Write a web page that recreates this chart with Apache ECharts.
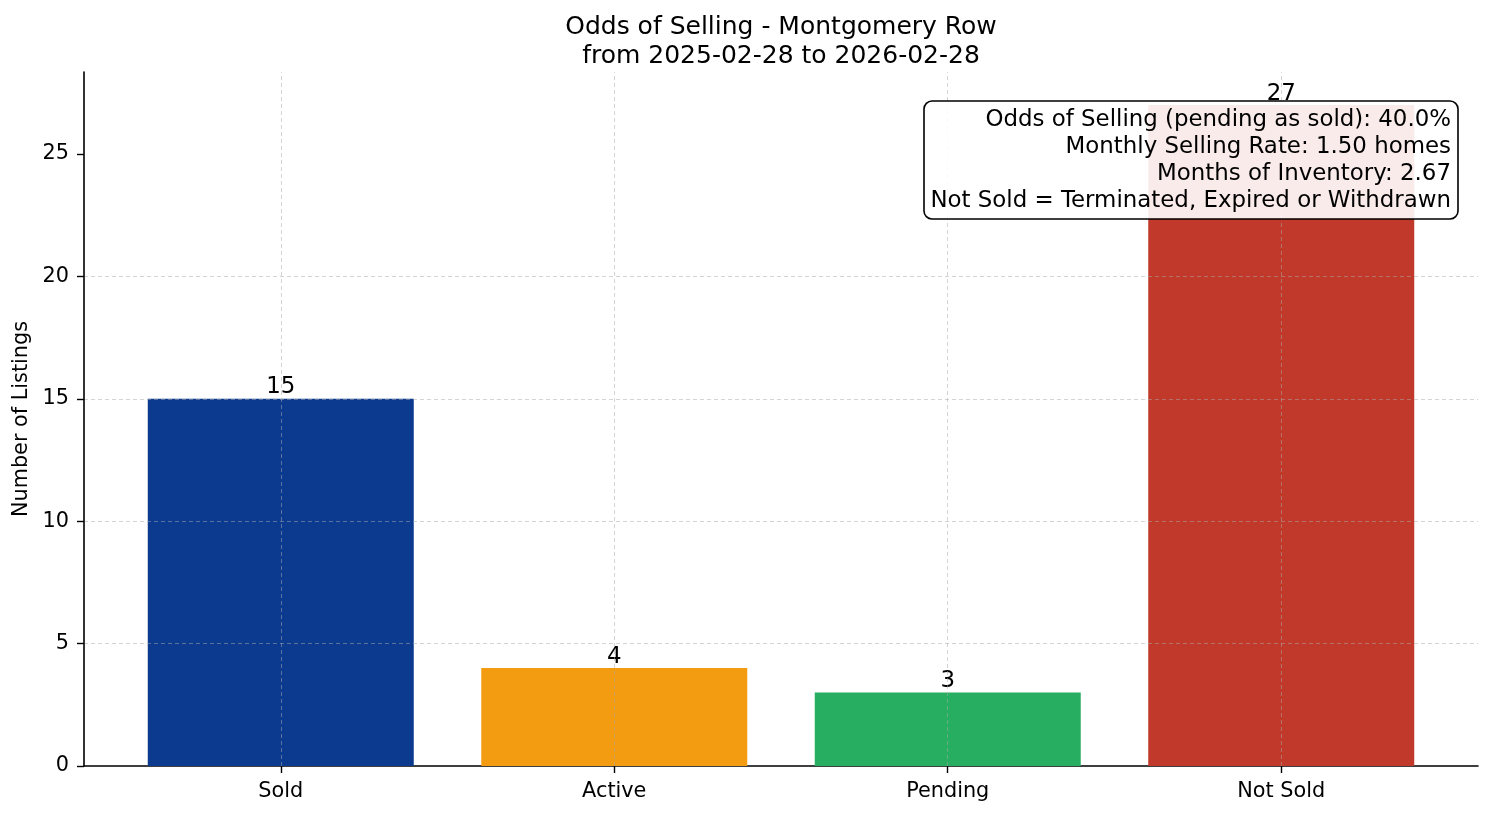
<!DOCTYPE html>
<html>
<head>
<meta charset="utf-8">
<script src="https://cdn.jsdelivr.net/npm/echarts@6/dist/echarts.min.js"></script>
<style>
  html, body { margin: 0; padding: 0; background: #fff; }
  #main { width: 1494px; height: 816px; }
</style>
</head>
<body>
<div id="main"></div>
<script>
var categories = ["Sold", "Active", "Pending", "Not Sold"];
var counts = [15, 4, 3, 27];
var barColors = ["#0b3a8e", "#f39c12", "#27ae60", "#c0392b"];
var yTicks = [0, 5, 10, 15, 20, 25];
var titleLines = ["Odds of Selling - Montgomery Row", "from 2025-02-28 to 2026-02-28"];
var infoLines = [
  "Odds of Selling (pending as sold): 40.0%",
  "Monthly Selling Rate: 1.50 homes",
  "Months of Inventory: 2.67",
  "Not Sold = Terminated, Expired or Withdrawn"
];

var font = "DejaVu Sans";
var gridLine = { color: "rgba(170,170,170,0.5)", width: 1, type: [4, 3] };

var chart = echarts.init(document.getElementById("main"));

var barData = counts.map(function (v, i) {
  return { value: [i, v], itemStyle: { color: barColors[i] } };
});

var option = {
  animation: false,
  textStyle: { fontFamily: font },
  title: [{
    text: titleLines.join("\n"),
    left: 776,
    top: 8,
    textAlign: "center",
    textStyle: { fontFamily: font, fontSize: 25, fontWeight: "normal", color: "#000", lineHeight: 29 }
  }, {
    // stats box, top right of the plot
    text: infoLines.join("\n"),
    left: 1444,
    top: 101,
    textAlign: "right",
    z: 20,
    padding: [6, 7, 4, 7],
    backgroundColor: "rgba(255,255,255,0.9)",
    borderColor: "#000",
    borderWidth: 1.6,
    borderRadius: 8,
    textStyle: { fontFamily: font, fontSize: 22.9, fontWeight: "normal", color: "#000", lineHeight: 27 }
  }],
  grid: { left: 84, right: 16, top: 72, bottom: 50 },
  xAxis: {
    type: "value",
    min: -0.59,
    max: 3.59,
    axisLine: { show: true, onZero: false, lineStyle: { color: "#000", width: 1.6 } },
    axisTick: { show: true, customValues: [0, 1, 2, 3], length: 7, lineStyle: { color: "#000", width: 1.4 } },
    axisLabel: {
      customValues: [0, 1, 2, 3],
      formatter: function (v) { return categories[Math.round(v)]; },
      fontSize: 20.8, color: "#000", margin: 15, fontFamily: font
    },
    splitLine: { show: false }
  },
  yAxis: {
    type: "value",
    min: 0,
    max: 28.35,
    interval: 5,
    z: 5,
    name: "Number of Listings",
    nameLocation: "middle",
    nameGap: 47,
    nameTextStyle: { fontSize: 20.8, color: "#000", fontFamily: font },
    axisLine: { show: true, onZero: false, lineStyle: { color: "#000", width: 1.6 } },
    axisTick: { show: true, length: 7, customValues: yTicks, lineStyle: { color: "#000", width: 1.4 } },
    axisLabel: {
      fontSize: 20.8, color: "#000", margin: 15, fontFamily: font,
      customValues: yTicks
    },
    splitLine: { show: true, showMinLine: false, showMaxLine: false, lineStyle: gridLine }
  },
  series: [{
    type: "bar",
    data: barData,
    barWidth: 266,
    label: {
      show: true,
      position: "top",
      distance: 0,
      fontSize: 22.9,
      color: "#000",
      fontFamily: font,
      formatter: function (p) { return p.value[1]; }
    },
    markLine: {
      silent: true,
      symbol: "none",
      label: { show: false },
      lineStyle: gridLine,
      emphasis: { disabled: true },
      data: categories.map(function (c, i) { return { xAxis: i }; })
    }
  }]
};

chart.setOption(option);
</script>
</body>
</html>
